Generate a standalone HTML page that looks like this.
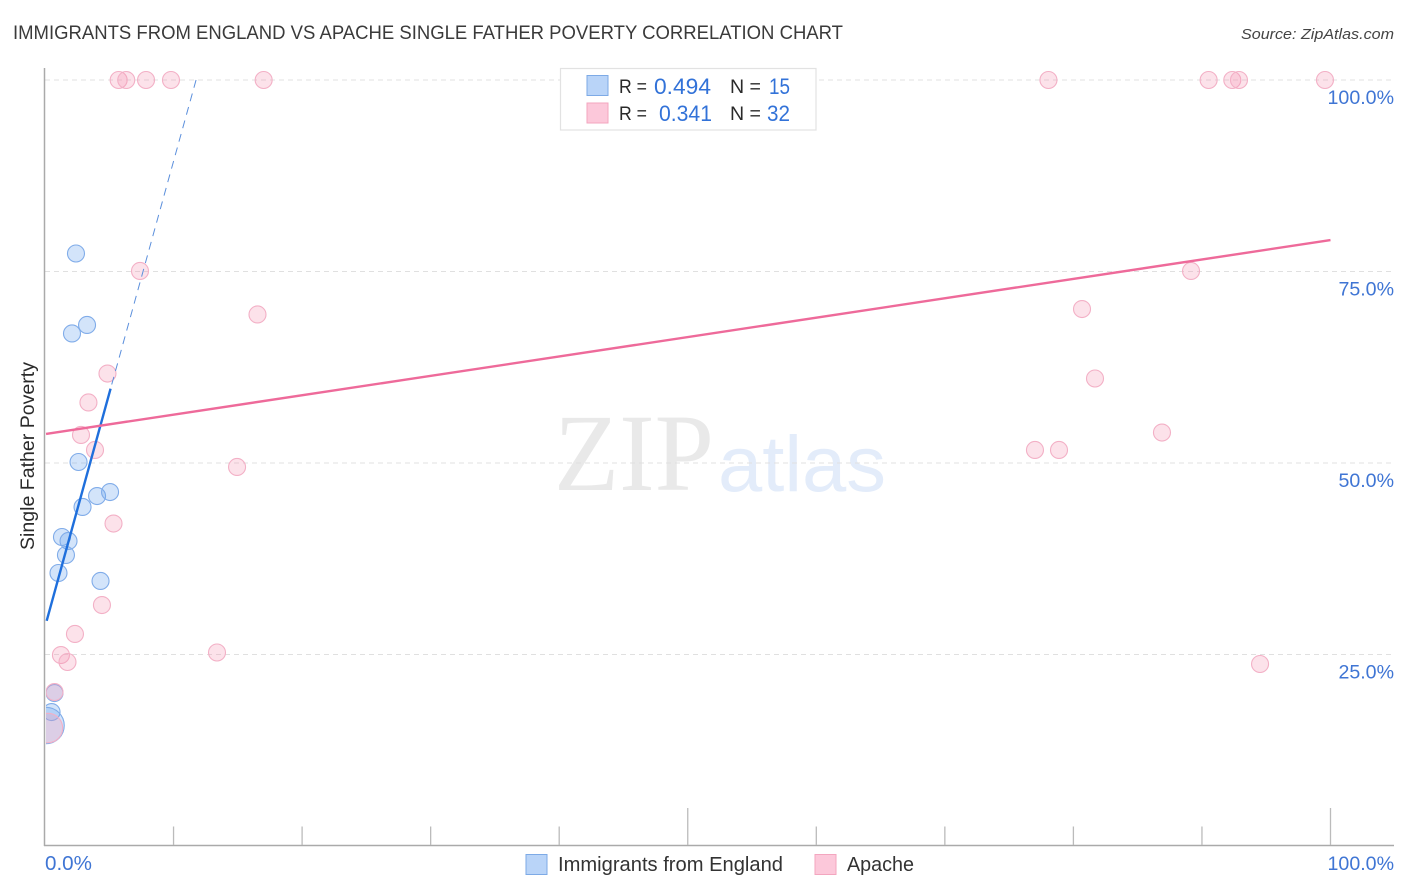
<!DOCTYPE html>
<html>
<head>
<meta charset="utf-8">
<style>
html,body{margin:0;padding:0;background:#fff;width:1406px;height:892px;overflow:hidden}
svg{display:block;font-family:"Liberation Sans",sans-serif}
</style>
</head>
<body>
<svg id="chart" width="1406" height="892" viewBox="0 0 1406 892" xmlns="http://www.w3.org/2000/svg">
  <defs><clipPath id="plot-clip"><rect x="46" y="60" width="1350" height="786"/></clipPath></defs>
  <rect x="0" y="0" width="1406" height="892" fill="#fff"/>
  <text x="13" y="39" font-size="19" fill="#3a3a3a" textLength="830" lengthAdjust="spacingAndGlyphs">IMMIGRANTS FROM ENGLAND VS APACHE SINGLE FATHER POVERTY CORRELATION CHART</text>
  <text x="1241" y="39" font-size="15" font-style="italic" fill="#444" textLength="153" lengthAdjust="spacingAndGlyphs">Source: ZipAtlas.com</text>
  <g>
    <text x="554" y="490" font-family="'Liberation Serif',serif" font-size="110" fill="#e9e9e9" textLength="160" lengthAdjust="spacingAndGlyphs">ZIP</text>
    <text x="718" y="491" font-size="79" fill="#e3ecfa" textLength="168" lengthAdjust="spacingAndGlyphs">atlas</text>
  </g>
  <g id="grid"></g>
  <g id="points" clip-path="url(#plot-clip)"></g>
  <rect x="0" y="690" width="44" height="70" fill="#fff"/>
  <g id="axes">
    <line x1="44.5" y1="68" x2="44.5" y2="846" stroke="#aaa" stroke-width="1.5"/>
    <line x1="44" y1="845.5" x2="1394" y2="845.5" stroke="#aaa" stroke-width="1.5"/>
  </g>
  <g id="xticks"></g>
  <g id="ylabels"></g>
  <g id="xlabels"></g>
  <text transform="translate(34,456) rotate(-90)" font-size="19" fill="#2a2a2a" text-anchor="middle" textLength="188" lengthAdjust="spacingAndGlyphs">Single Father Poverty</text>
  <g id="trends"></g>

  <g>
    <rect x="560.5" y="68.5" width="255.5" height="61.5" fill="#fff" stroke="#e2e2e2" stroke-width="1.2"/>
    <rect x="587" y="75.5" width="21" height="20" fill="#b9d4f8" stroke="#7daae6" stroke-width="1"/>
    <rect x="587" y="103" width="21" height="20" fill="#fcc8da" stroke="#f3a6bf" stroke-width="1"/>
    <text x="619" y="93" font-size="19" fill="#2a2a2a" textLength="28" lengthAdjust="spacingAndGlyphs">R =</text>
    <text x="654" y="94" font-size="22" fill="#3272d8" textLength="57" lengthAdjust="spacingAndGlyphs">0.494</text>
    <text x="730" y="93" font-size="19" fill="#2a2a2a" textLength="31" lengthAdjust="spacingAndGlyphs">N =</text>
    <text x="769" y="94" font-size="22" fill="#3272d8" textLength="21" lengthAdjust="spacingAndGlyphs">15</text>
    <text x="619" y="120" font-size="19" fill="#2a2a2a" textLength="28" lengthAdjust="spacingAndGlyphs">R =</text>
    <text x="659" y="121" font-size="22" fill="#3272d8" textLength="53" lengthAdjust="spacingAndGlyphs">0.341</text>
    <text x="730" y="120" font-size="19" fill="#2a2a2a" textLength="31" lengthAdjust="spacingAndGlyphs">N =</text>
    <text x="767" y="121" font-size="22" fill="#3272d8" textLength="23" lengthAdjust="spacingAndGlyphs">32</text>
  </g>

  <g>
    <rect x="526" y="854.5" width="21" height="20" fill="#b9d4f8" stroke="#7daae6" stroke-width="1"/>
    <text x="558" y="871" font-size="20" fill="#333" textLength="225" lengthAdjust="spacingAndGlyphs">Immigrants from England</text>
    <rect x="815" y="854.5" width="21" height="20" fill="#fcc8da" stroke="#f3a6bf" stroke-width="1"/>
    <text x="847" y="871" font-size="20" fill="#333" textLength="67" lengthAdjust="spacingAndGlyphs">Apache</text>
  </g>
</svg>
<script>
var englandX = [2.41,3.27,2.10,2.61,2.92,4.05,5.06,1.32,1.83,1.63,1.05,4.32,0.74,0.51,0.08];
var englandY = [77.35,68.02,66.91,50.13,44.26,45.69,46.21,40.34,39.82,37.99,35.64,34.60,19.97,17.49,15.73];
var englandWeight = [1,1,1,1,1,1,1,1,1,1,1,1,1,1,4.6];
var apacheX = [5.73,6.32,7.86,9.80,17.01,78.06,90.52,92.36,92.88,99.57,7.39,16.53,4.86,3.38,2.80,3.89,14.94,5.33,4.43,2.33,1.24,1.75,13.38,0.74,80.67,81.68,86.89,77.01,78.88,89.15,94.52,0.23];
var apacheY = [100,100,100,100,100,100,100,100,100,100,75.07,69.39,61.68,57.90,53.66,51.70,49.48,42.10,31.46,27.68,24.93,24.02,25.26,20.10,70.10,61.03,53.98,51.70,51.70,75.07,23.76,15.40];
var apacheWeight = [1,1,1,1,1,1,1,1,1,1,1,1,1,1,1,1,1,1,1,1,1,1,1,1,1,1,1,1,1,1,1,3];
var englandTrendX = [0.13,5.1];
var englandTrendY = [29.4,59.7];
var englandDashX = [11.75,5.1];
var englandDashY = [100,59.7];
var apacheTrendX = [0.08,100];
var apacheTrendY = [53.8,79.1];
var gridValues = [25,50,75,100];
var yTickLabels = ["25.0%","50.0%","75.0%","100.0%"];
var xTickValues = [10,20,30,40,50,60,70,80,90,100];
var xMajorTicks = [50,100];
var xLabelValues = ["0.0%","100.0%"];

function xScale(v){ return 45 + v * 12.855; }
function yScale(v){ return 846 - v * 7.66; }
var NS = 'http://www.w3.org/2000/svg';
function mk(parent, tag, attrs){
  var el = document.createElementNS(NS, tag);
  for (var k in attrs) el.setAttribute(k, attrs[k]);
  parent.appendChild(el);
  return el;
}
var grid = document.getElementById('grid');
gridValues.forEach(function(v){
  var el = mk(grid, 'line', {x1:45, x2:1394, y1:yScale(v), y2:yScale(v), stroke:'#e0e0e0', 'stroke-width':1, 'stroke-dasharray':'5 4'});
  
  
});
var xticks = document.getElementById('xticks');
xTickValues.forEach(function(v){
  var top = xMajorTicks.indexOf(v) >= 0 ? 808 : 826.5;
  var el = mk(xticks, 'line', {x1:xScale(v), x2:xScale(v), y1:top, y2:845, stroke:'#bbb', 'stroke-width':1.3});
  
  
});
var ylabels = document.getElementById('ylabels');
gridValues.forEach(function(v, i){
  var el = mk(ylabels, 'text', {x:1394, y:yScale(v) + 24, 'font-size':19.6, fill:'#3f75d4', 'text-anchor':'end'});
  el.textContent = yTickLabels[i];
  
  
});
var xlabels = document.getElementById('xlabels');
xLabelValues.forEach(function(t, i){
  var el = mk(xlabels, 'text', {x: i === 0 ? 45 : 1394, y:870, 'font-size': i === 0 ? 20.6 : 19.6, fill:'#3f75d4', 'text-anchor': i === 0 ? 'start' : 'end'});
  el.textContent = t;
  
  
});
var points = document.getElementById('points');
englandX.forEach(function(v, i){
  var el = mk(points, 'circle', {cx:xScale(v), cy:yScale(englandY[i]), r:8.5 * Math.sqrt(englandWeight[i]), fill:'rgba(110,165,240,0.30)', stroke:'#80ace9', 'stroke-width':1.1});
  
  
});
apacheX.forEach(function(v, i){
  var el = mk(points, 'circle', {cx:xScale(v), cy:yScale(apacheY[i]), r:8.5 * Math.sqrt(apacheWeight[i]), fill:'rgba(245,150,180,0.28)', stroke:'#f3b0c6', 'stroke-width':1.1});
  
  
});
var trends = document.getElementById('trends');
var dash = mk(trends, 'line', {x1:xScale(englandDashX[0]), y1:yScale(englandDashY[0]), x2:xScale(englandDashX[1]), y2:yScale(englandDashY[1]), stroke:'#5b8fdc', 'stroke-width':1, 'stroke-dasharray':'8 6'});


var blue = mk(trends, 'line', {x1:xScale(englandTrendX[0]), y1:yScale(englandTrendY[0]), x2:xScale(englandTrendX[1]), y2:yScale(englandTrendY[1]), stroke:'#1f6fdc', 'stroke-width':2.4});


var pink = mk(trends, 'line', {x1:xScale(apacheTrendX[0]), y1:yScale(apacheTrendY[0]), x2:xScale(apacheTrendX[1]), y2:yScale(apacheTrendY[1]), stroke:'#ee6a9a', 'stroke-width':2.4});


</script>
</body>
</html>
